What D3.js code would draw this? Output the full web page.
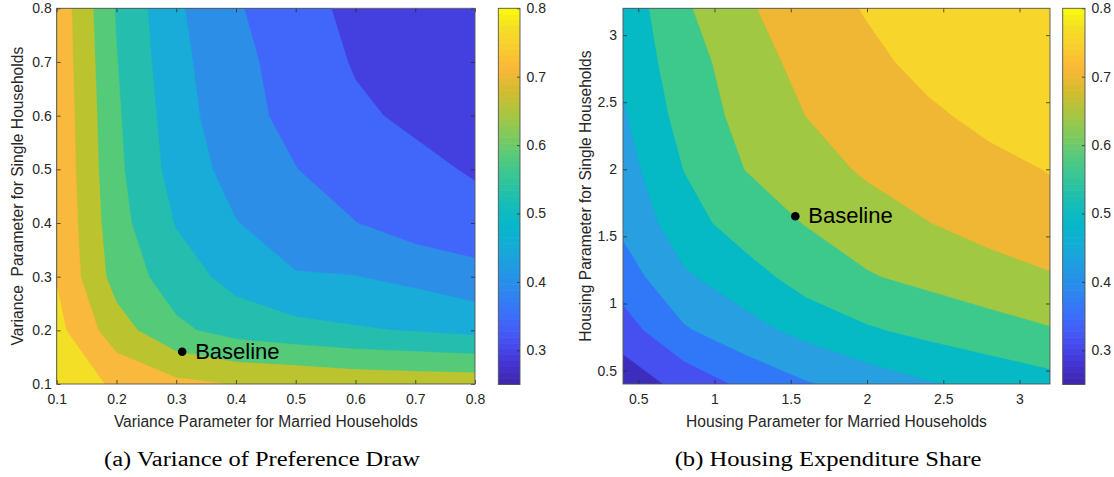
<!DOCTYPE html>
<html>
<head>
<meta charset="utf-8">
<script src="https://cdn.jsdelivr.net/npm/d3@7"></script>
<style>
  body { margin: 0; background: #fff; }
  svg { display: block; }
  text { font-family: "Liberation Sans", Arial, Helvetica, sans-serif; }
</style>
</head>
<body>
<svg id="chart" width="1114" height="477"></svg>
<script>
// ---------------- DATA ----------------
// Panel (a): variance parameters (grid) and resulting share
const varianceMarried = [0.1, 0.2, 0.3, 0.4, 0.5, 0.6, 0.7, 0.8];
const varianceSingle  = [0.1, 0.2, 0.3, 0.4, 0.5, 0.6, 0.7, 0.8];
// rows = single-household parameter (ascending), columns = married-household parameter (ascending)
const varianceShare = [
  [0.740, 0.690, 0.662, 0.648, 0.644, 0.635, 0.632, 0.630],
  [0.715, 0.622, 0.560, 0.531, 0.516, 0.505, 0.497, 0.487],
  [0.697, 0.580, 0.525, 0.482, 0.453, 0.451, 0.437, 0.417],
  [0.695, 0.568, 0.497, 0.4515, 0.426, 0.401, 0.376, 0.368],
  [0.692, 0.561, 0.480, 0.431, 0.401, 0.375, 0.362, 0.345],
  [0.690, 0.557, 0.472, 0.416, 0.387, 0.358, 0.341, 0.325],
  [0.687, 0.552, 0.464, 0.414, 0.378, 0.346, 0.325, 0.310],
  [0.685, 0.546, 0.458, 0.4045, 0.372, 0.335, 0.315, 0.300]
];
const varianceLevels = [0.35, 0.40, 0.45, 0.50, 0.55, 0.60, 0.65, 0.70];
const varianceTicks = [0.1, 0.2, 0.3, 0.4, 0.5, 0.6, 0.7, 0.8];
const varianceBaseline = [0.31, 0.16];

// Panel (b): housing parameters (grid) and resulting expenditure share
const housingMarried = [0.4, 0.8, 1.2, 1.6, 2.0, 2.4, 2.8, 3.2];
const housingSingle  = [0.4, 0.8, 1.2, 1.6, 2.0, 2.4, 2.8, 3.2];
const housingShare = [
  [0.266, 0.3178, 0.3605, 0.3956, 0.4213, 0.4457, 0.465, 0.482],
  [0.3275, 0.394, 0.4323, 0.4647, 0.494, 0.513, 0.5295, 0.546],
  [0.3754, 0.4432, 0.478, 0.522, 0.546, 0.563, 0.580, 0.596],
  [0.412, 0.478, 0.525, 0.552, 0.576, 0.599, 0.618, 0.634],
  [0.429, 0.501, 0.5505, 0.5786, 0.607, 0.622, 0.637, 0.652],
  [0.4444, 0.5185, 0.5652, 0.6004, 0.621, 0.642, 0.662, 0.675],
  [0.462, 0.528, 0.5758, 0.616, 0.638, 0.664, 0.678, 0.690],
  [0.468, 0.5426, 0.594, 0.624, 0.654, 0.675, 0.690, 0.700]
];
const housingLevels = [0.30, 0.35, 0.40, 0.45, 0.50, 0.55, 0.60, 0.65];
const housingTicks = [0.5, 1, 1.5, 2, 2.5, 3];
const housingBaseline = [1.53, 1.65];

const colorbarDomain = [0.25, 0.8];
const colorbarTicks = [0.3, 0.4, 0.5, 0.6, 0.7, 0.8];

// ---------------- STYLE ----------------
const varianceFill = ["#4440DF", "#4067FA", "#2D8EE8", "#19ACD8", "#25BEAE", "#55CA79", "#BBC42F", "#F8B93C", "#F3DF26"];
const housingFill  = ["#3C2DBD", "#4650F1", "#3078F8", "#279FE0", "#05B9C5", "#3EC98C", "#A0C842", "#EFB734", "#F8D52B"];
const parulaStops = [0, 0.06, 0.12, 0.18, 0.24, 0.30, 0.36, 0.42, 0.48, 0.54, 0.60, 0.66, 0.72, 0.78, 0.84, 0.90, 0.95, 1];
const parulaColors = ["#3E26A8", "#4536D6", "#4752F4", "#3D6DFB", "#2F84F1", "#2398E3", "#17A9D8", "#07B6CB",
                      "#15BDB6", "#31C49C", "#51C97F", "#7ECA5E", "#AAC540", "#D4BC2E", "#FBB838", "#F8CE2E", "#F4E024", "#F9FB0E"];
const parula = d3.scaleLinear().domain(parulaStops).range(parulaColors).interpolate(d3.interpolateRgb);

const axisColor = "#262626";
const frameColor = "#555";
const svg = d3.select("#chart");

function ringPath(ring, gx, gy) {
  return "M" + ring.map(p => gx(p[0]).toFixed(2) + "," + gy(p[1]).toFixed(2)).join("L") + "Z";
}

function panel(cfg) {
  const x = d3.scaleLinear().domain(cfg.xDomain).range(cfg.xRange);
  const y = d3.scaleLinear().domain(cfg.yDomain).range(cfg.yRange);
  const n = cfg.xs.length, m = cfg.ys.length;
  // contour grid coordinate -> pixel (grid value i sits at coordinate i + 0.5)
  const gx = d3.scaleLinear().domain([0.5, n - 0.5]).range([x(cfg.xs[0]), x(cfg.xs[n - 1])]);
  const gy = d3.scaleLinear().domain([0.5, m - 0.5]).range([y(cfg.ys[0]), y(cfg.ys[m - 1])]);
  const contours = d3.contours().size([n, m]).thresholds(cfg.levels)(cfg.z.flat());

  const [x0, x1] = cfg.xRange, [yb, yt] = cfg.yRange;
  svg.append("clipPath").attr("id", cfg.id + "-clip")
    .append("rect").attr("x", x0).attr("y", yt).attr("width", x1 - x0).attr("height", yb - yt);

  const g = svg.append("g").attr("clip-path", `url(#${cfg.id}-clip)`);
  g.append("rect").attr("x", x0).attr("y", yt).attr("width", x1 - x0).attr("height", yb - yt)
    .attr("fill", cfg.fill[0]);
  g.selectAll("path.band").data(contours).join("path").attr("class", "band")
    .attr("d", c => c.coordinates.map(poly => poly.map(r => ringPath(r, gx, gy)).join("")).join(""))
    .attr("fill", (c, i) => cfg.fill[i + 1])
    .attr("fill-rule", "evenodd")
    .attr("stroke", (c, i) => cfg.fill[i + 1]).attr("stroke-width", 0.4);

  // axes (ticks pointing inward, MATLAB style)
  const styleAxis = sel => {
    sel.select(".domain").remove();
    sel.selectAll(".tick line").attr("stroke", axisColor).attr("stroke-width", 0.75);
    sel.selectAll(".tick text").attr("fill", axisColor).style("font-size", "14px")
      .style("font-family", '"Liberation Sans", Arial, sans-serif');
  };
  svg.append("g").attr("transform", `translate(0,${yb})`)
    .call(d3.axisBottom(x).tickValues(cfg.xTicks).tickFormat(cfg.fmt).tickSizeInner(-4).tickSizeOuter(0).tickPadding(10))
    .call(styleAxis);
  svg.append("g").attr("transform", `translate(0,${yt})`)
    .call(d3.axisTop(x).tickValues(cfg.xTicks).tickFormat("").tickSizeInner(-4).tickSizeOuter(0))
    .call(styleAxis);
  svg.append("g").attr("transform", `translate(${x0},0)`)
    .call(d3.axisLeft(y).tickValues(cfg.yTicks).tickFormat(cfg.fmt).tickSizeInner(-4).tickSizeOuter(0).tickPadding(cfg.yPad))
    .call(styleAxis);
  svg.append("g").attr("transform", `translate(${x1},0)`)
    .call(d3.axisRight(y).tickValues(cfg.yTicks).tickFormat("").tickSizeInner(-4).tickSizeOuter(0))
    .call(styleAxis);
  svg.append("rect").attr("x", x0).attr("y", yt).attr("width", x1 - x0).attr("height", yb - yt)
    .attr("fill", "none").attr("stroke", frameColor).attr("stroke-width", 0.9);

  // baseline marker
  const bx = x(cfg.baseline[0]), by = y(cfg.baseline[1]);
  svg.append("circle").attr("cx", bx).attr("cy", by).attr("r", 4.3).attr("fill", "#000");
  svg.append("text").attr("x", bx + 13).attr("y", by + 7).text("Baseline")
    .style("font-size", "22px").attr("fill", "#000");

  // axis titles
  svg.append("text").attr("x", (x0 + x1) / 2).attr("y", 427).attr("text-anchor", "middle")
    .attr("fill", axisColor).style("font-size", "15.6px").text(cfg.xTitle);
  svg.append("text").attr("transform", `translate(${cfg.yTitleX},${(yb + yt) / 2}) rotate(-90)`)
    .attr("text-anchor", "middle").attr("dy", "0.35em").attr("xml:space", "preserve")
    .style("white-space", "pre").attr("fill", axisColor).style("font-size", "15.6px").text(cfg.yTitle);

  // colorbar
  const cb = cfg.cb;
  const c = d3.scaleLinear().domain(colorbarDomain).range([yb + 0.5, yt]);
  const nBands = 64;
  const step = (colorbarDomain[1] - colorbarDomain[0]) / nBands;
  const bands = d3.range(nBands).map(i => colorbarDomain[0] + i * step);
  svg.append("g").selectAll("rect").data(bands).join("rect")
    .attr("x", cb[0]).attr("width", cb[1] - cb[0])
    .attr("y", v => c(v + step) - 0.3).attr("height", v => c(v) - c(v + step) + 0.6)
    .attr("fill", v => parula((v + step / 2 - colorbarDomain[0]) / (colorbarDomain[1] - colorbarDomain[0])));
  svg.append("g").attr("transform", `translate(${cb[1]},0)`)
    .call(d3.axisRight(c).tickValues(colorbarTicks).tickFormat(d3.format(".1f")).tickSizeInner(-3).tickSizeOuter(0).tickPadding(6.5))
    .call(styleAxis);
  svg.append("rect").attr("x", cb[0]).attr("y", yt).attr("width", cb[1] - cb[0]).attr("height", yb + 0.5 - yt)
    .attr("fill", "none").attr("stroke", frameColor).attr("stroke-width", 0.9);

  // sub-caption (LaTeX style serif), widened horizontally to the reference width
  const capG = svg.append("g");
  const cap = capG.append("text").attr("x", 0).attr("y", 0).attr("text-anchor", "middle")
    .attr("fill", "#000").style("font-family", '"Liberation Serif", "Times New Roman", serif')
    .style("font-size", "20px").text(cfg.caption);
  const w = cap.node().getComputedTextLength();
  const k = cfg.capW / w;
  capG.attr("transform", `translate(${cfg.capX},466) scale(${k.toFixed(4)},1)`);
}

panel({
  id: "variance", xs: varianceMarried, ys: varianceSingle, z: varianceShare,
  levels: varianceLevels, fill: varianceFill,
  xDomain: [0.1, 0.8], yDomain: [0.1, 0.8], xRange: [56.7, 475], yRange: [384, 8.3],
  xTicks: varianceTicks, yTicks: varianceTicks, fmt: d3.format(".1f"), yPad: 5,
  baseline: varianceBaseline,
  xTitle: "Variance Parameter for Married Households",
  yTitle: "Variance  Parameter for Single Households", yTitleX: 17.5,
  cb: [498.3, 520],
  caption: "(a) Variance of Preference Draw", capX: 262, capW: 316
});

panel({
  id: "housing", xs: housingMarried, ys: housingSingle, z: housingShare,
  levels: housingLevels, fill: housingFill,
  xDomain: [0.4, 3.2], yDomain: [0.4, 3.2], xRange: [623, 1050], yRange: [384, 8.3],
  xTicks: housingTicks, yTicks: housingTicks, fmt: d => String(d), yPad: 6,
  baseline: housingBaseline,
  xTitle: "Housing Parameter for Married Households",
  yTitle: "Housing Parameter for Single Households", yTitleX: 586,
  cb: [1062.7, 1085],
  caption: "(b) Housing Expenditure Share", capX: 828, capW: 307
});
</script>
</body>
</html>
